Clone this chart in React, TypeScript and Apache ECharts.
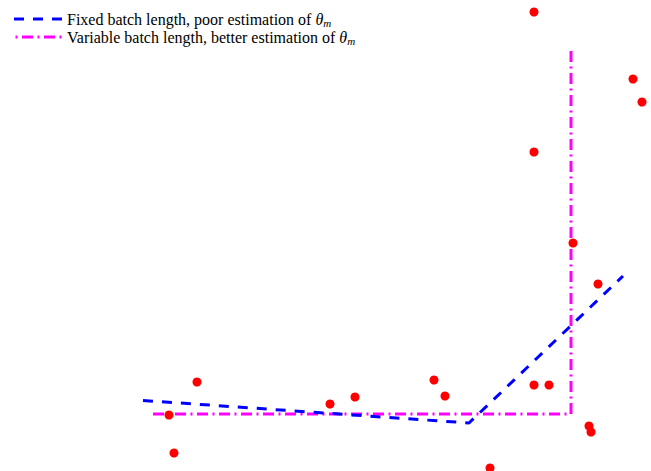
import React, { useEffect, useRef } from "react";
import * as echarts from "echarts";

// Observed samples (x, y)
const pointsX = [0.058, 0.068, 0.114, 0.380, 0.430, 0.588, 0.610, 0.700, 0.788, 0.788, 0.788, 0.818, 0.866, 0.916, 0.898, 0.902, 0.986, 1.004];
const pointsY = [-0.01, -0.39, 0.32, 0.10, 0.17, 0.34, 0.18, -0.54, 4.02, 2.62, 0.29, 0.29, 1.71, 1.30, -0.12, -0.18, 3.35, 3.12];

// Fixed batch length fit
const fixedX = [0.006, 0.658, 0.966];
const fixedY = [0.135, -0.09, 1.38];

// Variable batch length fit
const variableX = [0.026, 0.862, 0.862];
const variableY = [0.0, 0.0, 3.65];

const seriesNames = [
  "Fixed batch length, poor estimation of θm",
  "Variable batch length, better estimation of θm",
];

const BLUE = "#0000ff";
const MAGENTA = "#ff00ff";
const FIXED_DASH = [10, 9];
const VAR_DASH = [11, 4.5, 2, 4.5];

export default function App() {
  const ref = useRef<HTMLDivElement>(null);
  useEffect(() => {
    if (!ref.current) return;
    const chart = echarts.init(ref.current, undefined, { renderer: "svg" });
    const font = "'Liberation Serif', 'DejaVu Serif', serif";
    const rich = {
      t: { fontFamily: font, fontSize: 16, fill: "#000" },
      i: { fontFamily: font, fontSize: 16, fontStyle: "italic", fill: "#000" },
      s: { fontFamily: font, fontSize: 11, fontStyle: "italic", fill: "#000", padding: [7, 0, 0, 0] },
    };
    const legendRow = (idx: number, color: string, dash: number[], y: number) => [
      {
        type: "line",
        shape: { x1: 14, y1: y, x2: 63, y2: y },
        style: { stroke: color, lineWidth: 3, lineDash: dash, lineDashOffset: idx === 1 ? 14 : 0 },
      },
      {
        type: "text",
        x: 67,
        y: y,
        style: {
          text: `{t|${seriesNames[idx].slice(0, -2)}}{i|θ}{s|m}`,
          rich,
          fontFamily: font,
          fontSize: 16,
          fill: "#000",
          verticalAlign: "middle",
          align: "left",
        },
      },
    ];
    chart.setOption({
      animation: false,
      grid: { left: 140, right: 0, top: 0, bottom: 1, containLabel: false },
      xAxis: { type: "value", min: 0, max: 1.022, show: false },
      yAxis: { type: "value", min: -0.56, max: 4.14, show: false },
      graphic: [...legendRow(0, BLUE, FIXED_DASH, 19), ...legendRow(1, MAGENTA, VAR_DASH, 37)],
      series: [
        {
          name: seriesNames[0],
          type: "line",
          data: fixedX.map((x, i) => [x, fixedY[i]]),
          symbol: "none",
          lineStyle: { color: BLUE, width: 3, type: FIXED_DASH },
          z: 3,
        },
        {
          name: seriesNames[1],
          type: "line",
          data: variableX.map((x, i) => [x, variableY[i]]),
          symbol: "none",
          lineStyle: { color: MAGENTA, width: 3, type: VAR_DASH },
          z: 2,
        },
        {
          name: "samples",
          type: "scatter",
          data: pointsX.map((x, i) => [x, pointsY[i]]),
          symbol: "circle",
          symbolSize: 9,
          itemStyle: { color: "#ff0000", opacity: 1 },
          z: 4,
        },
      ],
    });
    return () => chart.dispose();
  }, []);
  return <div ref={ref} style={{ width: 651, height: 471, position: "absolute", left: 0, top: 0 }} />;
}
